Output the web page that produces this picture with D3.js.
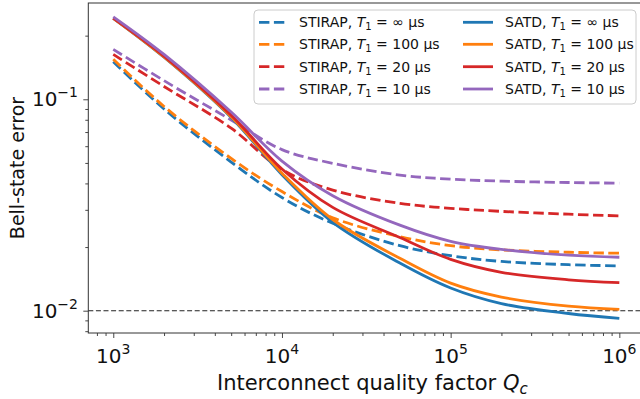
<!DOCTYPE html>
<html>
<head>
<meta charset="utf-8">
<script src="https://cdn.jsdelivr.net/npm/d3@7"></script>
<style>
  html, body { margin: 0; padding: 0; background: #fff; }
  svg { display: block; font-family: "DejaVu Sans", sans-serif; }
</style>
</head>
<body>
<svg id="chart" width="640" height="399"></svg>
<script>
// ---------------- data ----------------
const qValues = [1e3, 2e3, 5e3, 1e4, 2e4, 5e4, 1e5, 2e5, 5e5, 1e6];

const stirapInf = [0.1506, 0.0900, 0.0505, 0.0343, 0.0259, 0.0203, 0.0182, 0.0171, 0.0165, 0.0163];
const stirap100 = [0.1546, 0.0925, 0.0525, 0.0366, 0.0275, 0.0224, 0.0203, 0.0194, 0.0189, 0.0187];
const stirap20  = [0.1630, 0.1150, 0.0730, 0.0465, 0.0372, 0.0322, 0.0305, 0.0295, 0.0286, 0.0281];
const stirap10  = [0.1723, 0.1225, 0.0798, 0.0578, 0.0498, 0.0438, 0.0419, 0.0410, 0.0404, 0.0401];

const satdInf = [0.2415, 0.1580, 0.0820, 0.0440, 0.0262, 0.0168, 0.0128, 0.0108, 0.0097, 0.0092];
const satd100 = [0.2415, 0.1585, 0.0826, 0.0447, 0.0270, 0.0177, 0.0135, 0.0116, 0.0105, 0.01015];
const satd20  = [0.2420, 0.1600, 0.0840, 0.0468, 0.0308, 0.0222, 0.0175, 0.0152, 0.0140, 0.01357];
const satd10  = [0.2455, 0.1630, 0.0870, 0.0510, 0.0350, 0.0254, 0.0213, 0.0195, 0.0183, 0.0179];

const seriesNames = ["STIRAP", "STIRAP", "STIRAP", "STIRAP", "SATD", "SATD", "SATD", "SATD"];
const t1Labels = ["∞", "100", "20", "10", "∞", "100", "20", "10"];
const seriesColors = ["#1f77b4", "#ff7f0e", "#d62728", "#9467bd", "#1f77b4", "#ff7f0e", "#d62728", "#9467bd"];
const seriesValues = [stirapInf, stirap100, stirap20, stirap10, satdInf, satd100, satd20, satd10];

const xTickValues = [1e3, 1e4, 1e5, 1e6];
const xTickExps = ["3", "4", "5", "6"];
const yTickValues = [1e-2, 1e-1];
const yTickExps = ["−2", "−1"];
const thresholdValue = 0.01;

const xLabelMain = "Interconnect quality factor ";
const yLabelText = "Bell-state error";

// ---------------- layout ----------------
const svg = d3.select("#chart");
const L = 88.3, T = 3, R = 644.3, B = 333;

const x = d3.scaleLog().domain([Math.pow(10, 2.852), Math.pow(10, 6.148)]).range([L, R]);
const y = d3.scaleLog().domain([Math.pow(10, -2.1055), Math.pow(10, -0.5445)]).range([B, T]);

// minor ticks
const xMinor = [];
for (let d = 2; d <= 6; d++) for (let m = 2; m <= 9; m++) {
  const v = m * Math.pow(10, d);
  if (v >= x.domain()[0] && v <= x.domain()[1]) xMinor.push(v);
}
const yMinor = [];
for (let d = -3; d <= -1; d++) for (let m = 2; m <= 9; m++) {
  const v = m * Math.pow(10, d);
  if (v >= y.domain()[0] && v <= y.domain()[1]) yMinor.push(v);
}

// axes
svg.append("g").attr("transform", `translate(0,${B})`)
  .call(d3.axisBottom(x).tickValues(xMinor).tickSize(3).tickFormat(""));
svg.append("g").attr("transform", `translate(0,${B})`)
  .call(d3.axisBottom(x).tickValues(xTickValues).tickSize(5).tickFormat(""));
svg.append("g").attr("transform", `translate(${L},0)`)
  .call(d3.axisLeft(y).tickValues(yMinor).tickSize(3).tickFormat(""));
svg.append("g").attr("transform", `translate(${L},0)`)
  .call(d3.axisLeft(y).tickValues(yTickValues).tickSize(5).tickFormat(""));

svg.selectAll(".domain").remove();
svg.selectAll(".tick line").attr("stroke", "#333").attr("stroke-width", 0.9);

// tick labels (mathtext-like 10^n)
xTickValues.forEach((v, i) => {
  const t = svg.append("text").attr("x", x(v)).attr("y", 363)
    .attr("text-anchor", "middle").attr("font-size", 20).attr("fill", "#111");
  t.append("tspan").text("10");
  t.append("tspan").attr("dy", -9).attr("font-size", 14).text(xTickExps[i]);
});
yTickValues.forEach((v, i) => {
  const t = svg.append("text").attr("x", 78).attr("y", y(v) + 7)
    .attr("text-anchor", "end").attr("font-size", 20).attr("fill", "#111");
  t.append("tspan").text("10");
  t.append("tspan").attr("dy", -9).attr("font-size", 14).text(yTickExps[i]);
});

// axis labels
const xl = svg.append("text").attr("x", (L + R) / 2 + 6).attr("y", 390)
  .attr("text-anchor", "middle").attr("font-size", 21).attr("fill", "#111");
xl.append("tspan").text(xLabelMain);
xl.append("tspan").attr("font-style", "italic").text("Q");
xl.append("tspan").attr("font-style", "italic").attr("font-size", 15).attr("dy", 4).text("c");

svg.append("text").attr("transform", `translate(24,${(T + B) / 2}) rotate(-90)`)
  .attr("text-anchor", "middle").attr("font-size", 19).attr("fill", "#111").text(yLabelText);

// threshold line
svg.append("line").attr("x1", L).attr("x2", R).attr("y1", y(thresholdValue)).attr("y2", y(thresholdValue))
  .attr("stroke", "#222").attr("stroke-width", 1.1).attr("stroke-dasharray", "5,2.6");

// series lines
const line = d3.line().x((d, i) => x(qValues[i])).y(d => y(d)).curve(d3.curveCatmullRom.alpha(0.5));
seriesValues.forEach((vals, k) => {
  svg.append("path").attr("d", line(vals)).attr("fill", "none")
    .attr("stroke", seriesColors[k]).attr("stroke-width", 2.8)
    .attr("stroke-dasharray", k < 4 ? "10.4,4.5" : null);
});

// spines
svg.append("rect").attr("x", L).attr("y", T).attr("width", R - L).attr("height", B - T)
  .attr("fill", "none").attr("stroke", "#333").attr("stroke-width", 1);

// legend
const lg = svg.append("g");
lg.append("rect").attr("x", 254).attr("y", 10).attr("width", 382).attr("height", 94).attr("rx", 4)
  .attr("fill", "#fff").attr("fill-opacity", 0.85).attr("stroke", "#ccc").attr("stroke-width", 1);
const rowY = [22.3, 44.3, 66.7, 89.0];
seriesValues.forEach((vals, k) => {
  const col = k < 4 ? 0 : 1;
  const row = k % 4;
  const hx0 = col === 0 ? 259 : 463;
  const hx1 = col === 0 ? 288 : 493;
  const tx = col === 0 ? 299 : 505;
  lg.append("line").attr("x1", hx0).attr("x2", hx1).attr("y1", rowY[row]).attr("y2", rowY[row])
    .attr("stroke", seriesColors[k]).attr("stroke-width", 2.8)
    .attr("stroke-dasharray", k < 4 ? "10.4,4.5" : null);
  const t = lg.append("text").attr("x", tx).attr("y", rowY[row] + 5).attr("font-size", 14).attr("fill", "#111");
  t.append("tspan").text(seriesNames[k] + ", ");
  t.append("tspan").attr("font-style", "italic").text("T");
  t.append("tspan").attr("font-size", 10).attr("dy", 3).text("1");
  t.append("tspan").attr("dy", -3).text(" = " + t1Labels[k] + " μs");
});
</script>
</body>
</html>
